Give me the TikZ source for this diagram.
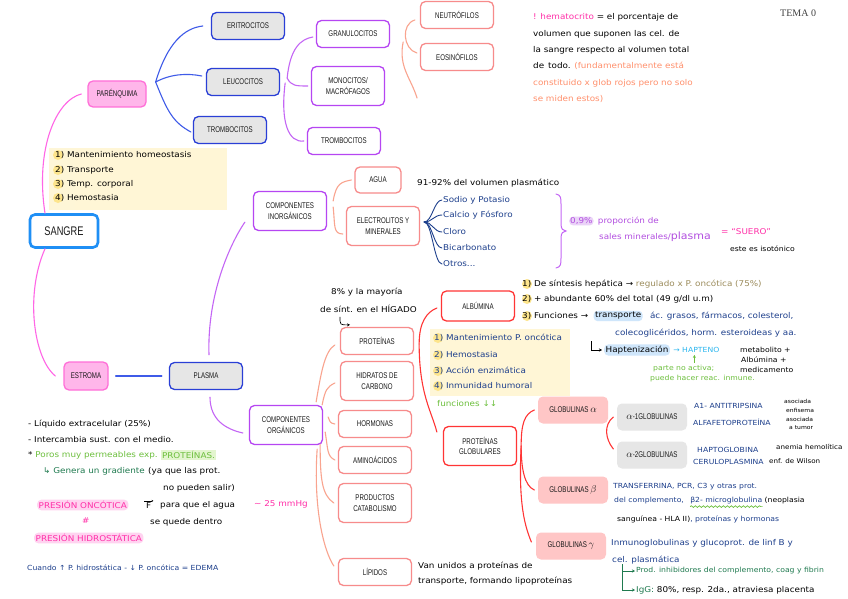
\documentclass[tikz,border=0pt]{standalone}
\usepackage{fontspec}
\usetikzlibrary{arrows.meta,decorations.pathmorphing}
\setmainfont{DejaVu Sans}
\newfontfamily\bfont[FakeStretch=0.74]{Liberation Sans}
\newfontfamily\hfont[FakeStretch=1.1]{DejaVu Sans}
\newfontfamily\tfont{Liberation Serif}
\definecolor{cSangre}{HTML}{1F8FF5}
\definecolor{cPinkB}{HTML}{FF6FD8}
\definecolor{cPinkF}{HTML}{FFB6EA}
\definecolor{cPinkL}{HTML}{FF66E6}
\definecolor{cBlueB}{HTML}{2A3FD6}
\definecolor{cBlueL}{HTML}{3F5BE8}
\definecolor{cGreyF}{HTML}{E6E6E6}
\definecolor{cPurB}{HTML}{B646F2}
\definecolor{cPurL}{HTML}{C466F5}
\definecolor{cSalB}{HTML}{F78B8B}
\definecolor{cSalL}{HTML}{F9A48F}
\definecolor{cRed}{HTML}{FF3535}
\definecolor{cGlobF}{HTML}{FFC6C6}
\definecolor{cNavy}{HTML}{1D3F8C}
\definecolor{cLGreen}{HTML}{6CBF3C}
\definecolor{cDGreen}{HTML}{1F7A4F}
\definecolor{cMag}{HTML}{FF2FA8}
\definecolor{cOrng}{HTML}{FF8F6B}
\definecolor{cPurT}{HTML}{B24EE0}
\definecolor{cCyan}{HTML}{2BB6EF}
\definecolor{cOlive}{HTML}{9C8C5C}
\definecolor{cYel}{HTML}{FFF6D6}
\definecolor{cYelD}{HTML}{FDE58C}
\definecolor{cLBlue}{HTML}{CFE6FB}
\definecolor{cLav}{HTML}{EAD3F7}
\definecolor{cHlPink}{HTML}{FFD3F0}
\definecolor{cHlGreen}{HTML}{E3F5CF}
\definecolor{cTxt}{HTML}{1A1A1A}
\begin{document}
\begin{tikzpicture}[x=1pt,y=-1pt,
  bx/.style={rounded corners=5pt, line width=1.3pt, minimum width=73pt, minimum height=27pt, align=center, font=\bfont\fontsize{8.3}{10.5}\selectfont, text=cTxt, fill=white, inner sep=1pt},
  bxt/.style={bx, minimum height=39pt},
  gl/.style={bx, draw=none, fill=cGlobF, minimum width=70pt},
  nt/.style={anchor=west, inner sep=0pt, font=\hfont\fontsize{8}{9.5}\selectfont, text=black},
  ns/.style={nt, font=\hfont\fontsize{7}{8}\selectfont},
  nx/.style={nt, font=\hfont\fontsize{5.5}{6}\selectfont},
  cn/.style={line width=1.1pt, line cap=round},
  cpk/.style={cn, draw=cPinkL},
  cbl/.style={cn, draw=cBlueL},
  cpu/.style={cn, draw=cPurL},
  csa/.style={cn, draw=cSalL},
  crd/.style={cn, draw=cRed},
  cnv/.style={cn, draw=cNavy, line width=0.9pt},
  arr/.style={-{Stealth[length=3pt,width=3pt]}, line width=0.7pt}
]
\useasboundingbox (0,0) rectangle (848,599);
\fill[white] (0,0) rectangle (848,599);

% ---------- yellow boxes ----------
\fill[cYel] (49,148) rectangle (227,210);
\fill[cYelD!35] (49,148) rectangle (75,210);
\fill[cYel] (430,329) rectangle (570,396);
\fill[cYelD!35] (430,329) rectangle (447,396);
\foreach \yy in {155,170,184,198} \fill[cYelD] (58,\yy) circle (5);
\foreach \yy in {338,355,371,386} \fill[cYelD] (438,\yy) circle (5);
\foreach \yy in {284,299,316} \fill[cYelD] (527,\yy) circle (5);

% ---------- boxes ----------
\node[bx, draw=cSangre, line width=2.6pt, minimum width=68pt, minimum height=33pt, font=\bfont\fontsize{12.5}{14}\selectfont] (sangre) at (64,231) {SANGRE};
\node[bx, draw=cPinkB, fill=cPinkF, minimum width=58pt, minimum height=26pt] (paren) at (117,94) {PARÉNQUIMA};
\node[bx, draw=cBlueB, fill=cGreyF] (erit) at (248,26) {ERITROCITOS};
\node[bx, draw=cBlueB, fill=cGreyF] (leuc) at (243,82) {LEUCOCITOS};
\node[bx, draw=cBlueB, fill=cGreyF] (tromb1) at (230,130) {TROMBOCITOS};
\node[bx, draw=cPurB] (granul) at (353,34) {GRANULOCITOS};
\node[bxt, draw=cPurB] (mono) at (348,86) {MONOCITOS/\\MACRÓFAGOS};
\node[bx, draw=cPurB] (tromb2) at (344,141) {TROMBOCITOS};
\node[bx, draw=cSalB] (neut) at (457,15) {NEUTRÓFILOS};
\node[bx, draw=cSalB] (eos) at (457,57) {EOSINÓFILOS};
\node[bxt, draw=cPurB] (cinorg) at (290,211) {COMPONENTES\\INORGÁNICOS};
\node[bx, draw=cSalB, minimum width=46pt, minimum height=26pt] (agua) at (378,180) {AGUA};
\node[bxt, draw=cSalB] (electro) at (383,226) {ELECTROLITOS Y\\MINERALES};
\node[bx, draw=cPinkB, fill=cPinkF, minimum width=44pt, minimum height=28pt] (estroma) at (86,376) {ESTROMA};
\node[bx, draw=cBlueB, fill=cGreyF] (plasma) at (206,376) {PLASMA};
\node[bxt, draw=cPurB] (corg) at (286,425) {COMPONENTES\\ORGÁNICOS};
\node[bx, draw=cSalB] (prot) at (377,341) {PROTEÍNAS};
\node[bxt, draw=cSalB] (hidr) at (377,381) {HIDRATOS DE\\CARBONO};
\node[bx, draw=cSalB] (horm) at (375,424) {HORMONAS};
\node[bx, draw=cSalB] (amino) at (375,460) {AMINOÁCIDOS};
\node[bxt, draw=cSalB] (prod) at (375,503) {PRODUCTOS\\CATABOLISMO};
\node[bx, draw=cSalB] (lip) at (375,572) {LÍPIDOS};
\node[bx, draw=cRed, minimum height=30pt] (alb) at (478,306) {ALBÚMINA};
\node[bxt, draw=cRed] (glob) at (480,446) {PROTEÍNAS\\GLOBULARES};
\node[gl] (ga) at (573,410) {GLOBULINAS {\fontsize{10}{10}\selectfont$\alpha$}};
\node[gl] (gb) at (573,490) {GLOBULINAS {\fontsize{10}{10}\selectfont$\beta$}};
\node[gl] (gg) at (571,546) {GLOBULINAS {\fontsize{10}{10}\selectfont$\gamma$}};
\node[gl, fill=cGreyF] (ga1) at (652,417) {{\fontsize{10}{10}\selectfont$\alpha$}-1GLOBULINAS};
\node[gl, fill=cGreyF] (ga2) at (652,455) {{\fontsize{10}{10}\selectfont$\alpha$}-2GLOBULINAS};

% ---------- connectors ----------
\draw[cpk] ([xshift=-19pt]sangre.north) .. controls +(-10,-65) and +(-25,6) .. ([xshift=-6pt]paren.west);
\draw[cpk] ([xshift=-19pt]sangre.south) .. controls +(-20,45) and +(-22,-18) .. ([xshift=-8pt]estroma.west);
\draw[cbl] ([xshift=7pt]estroma.east) -- ([xshift=-7pt]plasma.west);
\coordinate (pj) at ([shift={(9,-12)}]paren.east);
\draw[cbl] (pj) .. controls +(12,-40) and +(-18,2) .. ([xshift=-8pt]erit.west);
\draw[cbl] (pj) .. controls +(15,-8) and +(-15,-3) .. ([shift={(-4,-6)}]leuc.west);
\draw[cbl] (pj) .. controls +(12,30) and +(-18,-10) .. ([shift={(-2,2)}]tromb1.west);
\coordinate (lj) at ([shift={(7,-4)}]leuc.east);
\draw[cpu] (lj) .. controls +(3,-30) and +(-12,2) .. ([shift={(-3,3)}]granul.west);
\draw[cpu] (lj) .. controls +(4,8) and +(-12,0) .. ([xshift=-3pt]mono.west);
\draw[cpu] ([shift={(-2,5)}]lj) .. controls +(-5,40) and +(-15,2) .. ([xshift=-3pt]tromb2.west);
\draw[csa] ([shift={(-5,5)}]neut.west) .. controls +(-14,4) and +(-14,-4) .. ([shift={(-3,-4)}]eos.west);
\coordinate (gfree) at (417,98);
\draw[csa] ([shift={(13,8)}]granul.east) .. controls +(-5,25) and +(-6,-20) .. (gfree);
\draw[cpu] ([shift={(3,-7)}]plasma.north) .. controls +(-2,-60) and +(-15,22) .. ([shift={(-8,-9)}]cinorg.south west);
\draw[cpu] ([shift={(4,7)}]plasma.south) .. controls +(0,22) and +(-18,-4) .. ([shift={(-6,8)}]corg.west);
\draw[csa] ([shift={(6,-10)}]cinorg.east) .. controls +(3,-18) and +(-10,2) .. ([xshift=-3pt]agua.west);
\draw[csa] ([shift={(6,-4)}]cinorg.east) .. controls +(2,18) and +(-10,0) .. ([shift={(-3,8)}]electro.west);
\draw[csa] ([shift={(-7,-3)}]corg.north east) .. controls +(5,-30) and +(-10,6) .. ([shift={(-5,4)}]prot.west);
\draw[csa] ([shift={(-1,0)}]corg.north east) .. controls +(3,-15) and +(-8,4) .. ([shift={(-5,2)}]hidr.west);
\draw[csa] ([shift={(5,-8)}]corg.east) .. controls +(2,5) and +(-5,-1) .. ([xshift=-3pt]horm.west);
\draw[csa] ([shift={(2,7)}]corg.east) .. controls +(3,18) and +(-8,-4) .. ([xshift=-3pt]amino.west);
\draw[csa] ([shift={(-3,-1)}]corg.south east) .. controls +(0,35) and +(-12,-8) .. ([xshift=-4pt]prod.west);
\draw[csa] ([shift={(-6,4)}]corg.south east) .. controls +(-4,60) and +(-10,-15) .. ([shift={(-4,-6)}]lip.west);
\coordinate (pj2) at ([shift={(5,3)}]prot.east);
\draw[crd] (pj2) .. controls +(0,-22) and +(-10,4) .. ([shift={(-4,2)}]alb.west);
\draw[crd] (pj2) .. controls +(0,50) and +(-5,-20) .. ([shift={(-6,-14)}]glob.west);
\coordinate (gj) at ([xshift=4pt]glob.east);
\draw[crd] (gj) .. controls +(0,-22) and +(-10,4) .. ([xshift=-3pt]ga.west);
\draw[crd] (gj) .. controls +(0,22) and +(-10,-4) .. ([xshift=-3pt]gb.west);
\draw[crd] (gj) .. controls +(-3,60) and +(-6,-15) .. ([shift={(-4,-4)}]gg.west);
\draw[crd] ([xshift=-3pt]ga1.west) .. controls +(-10,8) and +(-8,-10) .. ([shift={(-3,-6)}]ga2.west);

% ---------- hematocrito ----------
\node[nt] (h1) at (533,17) {\textcolor{cMag}{! hematocrito} = el porcentaje de};
\node[nt] (h2) at (533,34) {volumen que suponen las cel. de};
\node[nt] (h3) at (533,50) {la sangre respecto al volumen total};
\node[nt] (h4) at (533,66) {de\enspace todo. \textcolor{cOrng}{(fundamentalmente está}};
\node[nt, text=cOrng] (h5) at (533,83) {constituido x glob rojos pero no solo};
\node[nt, text=cOrng] (h6) at (533,99) {se miden estos)};
\node[anchor=west, inner sep=0pt, font=\tfont\fontsize{10}{12}\selectfont, text=black!75] (tema) at (780,13) {TEMA 0};

% ---------- yellow box 1 ----------
\node[nt] (y1) at (55,155) {1) Mantenimiento homeostasis};
\node[nt] (y2) at (55,170) {2) Transporte};
\node[nt] (y3) at (55,184) {3) Temp. corporal};
\node[nt] (y4) at (55,198) {4) Hemostasia};

% ---------- inorganic ----------
\node[nt] (agt) at (417,183) {91-92\% del volumen plasmático};
\node[nt, text=cNavy] (e1) at (443,200) {Sodio y Potasio};
\node[nt, text=cNavy] (e2) at (443,215) {Calcio y Fósforo};
\node[nt, text=cNavy] (e3) at (443,232) {Cloro};
\node[nt, text=cNavy] (e4) at (443,248) {Bicarbonato};
\node[nt, text=cNavy] (e5) at (443,264) {Otros...};
\coordinate (ej) at ([shift={(4,-4)}]electro.east);
\foreach \e in {e1,e2,e3,e4,e5} \draw[cnv] (ej) .. controls +(8,0) and +(-8,0) .. ([xshift=-1pt]\e.west);
\draw[cPurL, line width=1pt, line cap=round] (556,194) .. controls (561,195) and (561,198) .. (561,204) -- (561,224) .. controls (561,229) and (563,231) .. (566,231) .. controls (563,231) and (561,233) .. (561,238) -- (561,258) .. controls (561,264) and (561,267) .. (556,268);
\node[nt, fill=cLav, rounded corners=4pt, inner sep=1pt, text=cPurT] (s0) at (569,221) {0,9\%};
\node[nt, text=cPurT] (s1) at ([xshift=4pt]s0.east) {proporción de};
\node[nt, text=cPurT] (s2) at (599,237) {sales minerales/\fontsize{10}{10}\selectfont plasma};
\node[nt, text=cMag] (suero) at (721,232) {= “SUERO”};
\node[ns] (iso) at (730,249) {este es isotónico};

% ---------- proteins notes ----------
\node[nt] (hig1) at (331,292) {8\% y la mayoría};
\node[nt] (hig2) at (320,309) {de sínt. en el HÍGADO};
\draw[arr] ([shift={(20,4)}]hig2.south west) .. controls +(0,8) .. ([shift={(-27,-2)}]prot.north);
\node[nt, text=cNavy] (f1) at (434,338) {1) Mantenimiento P. oncótica};
\node[nt, text=cNavy] (f2) at (434,355) {2) Hemostasia};
\node[nt, text=cNavy] (f3) at (434,371) {3) Acción enzimática};
\node[nt, text=cNavy] (f4) at (434,386) {4) Inmunidad humoral};
\node[nt, text=cLGreen] (fun) at (437,404) {funciones ↓↓};

% ---------- albumina notes ----------
\node[nt] (a1) at (522,284) {1) De síntesis hepática → \textcolor{cOlive}{regulado x P. oncótica (75\%)}};
\node[nt] (a2) at (522,299) {2) + abundante 60\% del total (49 g/dl u.m)};
\node[nt] (a3) at (522,316) {3) Funciones →};
\node[nt, fill=cLBlue, rounded corners=4pt, inner sep=1.5pt] (a3b) at ([xshift=5pt]a3.east) {transporte};
\node[nt, text=cNavy] (a3c) at ([xshift=7pt]a3b.east) {ác. grasos, fármacos, colesterol,};
\node[nt, text=cNavy] (a4) at (615,333) {colecoglicéridos, horm. esteroideas y aa.};
\node[nt, fill=cLBlue, rounded corners=4pt, inner sep=1.5pt] (hap) at (604,350) {Haptenización};
\draw[arr] ([shift={(-24,4)}]a4.south west) |- ([xshift=-2pt]hap.west);
\node[ns, text=cCyan] (hapt) at ([xshift=3pt]hap.east) {→ HAPTENO};
\node[ns] (met1) at (740,350) {metabolito +};
\node[ns] (met2) at (741,360) {Albúmina +};
\node[ns] (met3) at (740,370) {medicamento};
\draw[arr, cLGreen] ([shift={(-2,10)}]hapt.south) -- ([shift={(-2,2)}]hapt.south);
\node[ns, text=cLGreen] (pna1) at (653,369) {parte no activa;};
\node[ns, text=cLGreen] (pna2) at (650,379) {puede hacer reac. inmune.};

% ---------- globulinas notes ----------
\node[ns, text=cNavy] (g1) at (694,406) {A1- ANTITRIPSINA};
\node[nx] (g1a) at (784,401) {asociada};
\node[nx] (g1b) at (786,410) {enfisema};
\node[ns, text=cNavy] (g2) at (693,422) {ALFAFETOPROTEÍNA};
\node[nx] (g2a) at (786,419) {asociada};
\node[nx] (g2b) at (789,428) {a tumor};
\node[ns, text=cNavy] (g3) at (697,450) {HAPTOGLOBINA};
\node[nx, font=\hfont\fontsize{6.5}{7}\selectfont] (g3a) at (776,447) {anemia hemolítica};
\node[ns, text=cNavy] (g4) at (693,462) {CERULOPLASMINA};
\node[nx, font=\hfont\fontsize{6.5}{7}\selectfont] (g4a) at (769,461) {enf. de Wilson};
\node[ns, text=cNavy] (b1) at (613,487) {TRANSFERRINA, PCR, C3 y otras prot.};
\node[ns, text=cNavy] (b2) at (614,501) {del complemento,};
\node[ns, text=cNavy] (b2m) at ([xshift=6pt]b2.east) {β2- microglobulina};
\draw[cLGreen, line width=0.7pt, decorate, decoration={snake, amplitude=0.9pt, segment length=4pt}] ([yshift=-2pt]b2m.south west) -- ([yshift=-2pt]b2m.south east);
\node[ns] (b2n) at ([xshift=2pt]b2m.east) {(neoplasia};
\node[ns] (b3) at (617,519) {sanguínea - HLA II)\textcolor{cNavy}{, proteínas y hormonas}};
\node[nt, text=cNavy] (c1) at (611,543) {Inmunoglobulinas y glucoprot. de linf B y};
\node[nt, text=cNavy] (c2) at (612,560) {cel. plasmática};
\node[ns, text=cDGreen] (ig1) at (636,571) {Prod. inhibidores del complemento, coag y fibrin};
\node[nt] (ig2) at (636,590) {\textcolor{cDGreen}{IgG:} 80\%, resp. 2da., atraviesa placenta};
\coordinate (gst) at ([shift={(-14,-7)}]ig1.west);
\draw[arr, cDGreen] (gst) |- ([xshift=-1pt]ig1.west);
\draw[arr, cDGreen] (gst) |- ([xshift=-1pt]ig2.west);

% ---------- lipidos ----------
\node[nt] (lp1) at (418,566) {Van unidos a proteínas de};
\node[nt] (lp2) at (418,581) {transporte, formando lipoproteínas};

% ---------- left notes ----------
\node[nt] (l1) at (28,424) {- Líquido extracelular (25\%)};
\node[nt] (l2) at (28,440) {- Intercambia sust. con el medio.};
\node[nt] (l3) at (28,455) {* \textcolor{cLGreen}{Poros muy permeables exp.}};
\node[nt, fill=cHlGreen, inner sep=1pt, text=cLGreen] (l3b) at ([xshift=3pt]l3.east) {PROTEÍNAS.};
\node[nt, text=cDGreen] (l4) at (43,471) {↳ Genera un gradiente};
\node[nt] (l4b) at ([xshift=3pt]l4.east) {(ya que las prot.};
\node[nt] (l5) at (163,488) {no pueden salir)};
\node[nt, fill=cHlPink, rounded corners=4pt, inner sep=1.5pt, text=cMag] (l6) at (37,505) {PRESIÓN ONCÓTICA};
\node[nt] (lf) at (146,506) {F};
\draw[arr, line width=0.5pt, -{Stealth[length=2pt,width=2pt]}] ([shift={(-2,-2)}]lf.north west) -- ([shift={(2,-2)}]lf.north east);
\node[nt] (l6b) at (160,505) {para que el agua};
\node[nt, text=cMag] (l6c) at (254,504) {∼ 25 mmHg};
\node[nt, text=cMag] (l7) at (82,521) {\#};
\node[nt] (l7b) at (150,522) {se quede dentro};
\node[nt, fill=cHlPink, rounded corners=4pt, inner sep=1.5pt, text=cMag] (l8) at (34,538) {PRESIÓN HIDROSTÁTICA};
\node[ns, text=cNavy] (l9) at (27,568) {Cuando ↑ P. hidrostática - ↓ P. oncótica = EDEMA};
\end{tikzpicture}
\end{document}
